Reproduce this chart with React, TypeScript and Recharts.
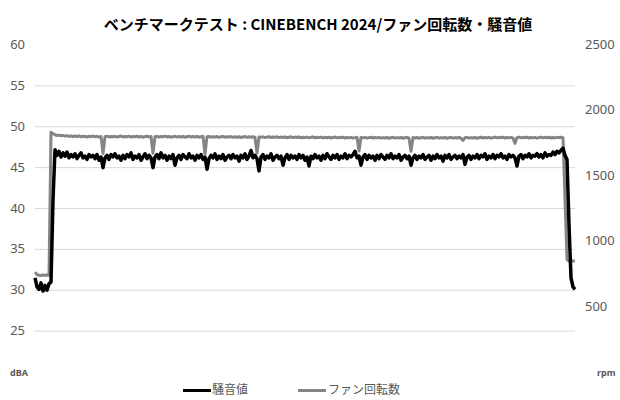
import { CartesianGrid, ComposedChart, Line, XAxis, YAxis } from "recharts";

// 騒音値 (dBA), one sample per step
const noise = [
  31.5, 30.4, 30.1, 30.9, 29.9, 30.6, 30.0, 30.8, 31.0, 41.0,
  47.2, 46.5, 47.0, 46.3, 46.8, 46.4, 46.9, 46.2, 46.6, 46.3,
  46.7, 46.1, 46.5, 46.8, 46.2, 46.4, 46.0, 46.6, 46.3, 46.5,
  46.1, 46.6, 45.9, 46.3, 45.0, 46.2, 46.5, 46.0, 46.6, 46.3,
  46.7, 46.2, 46.4, 45.9, 46.5, 46.1, 46.6, 46.3, 46.8, 46.0,
  46.4, 46.2, 46.6, 45.9, 46.3, 46.7, 46.1, 46.5, 46.2, 45.0,
  46.3, 46.6, 46.1, 46.8, 46.2, 46.5, 45.9, 46.4, 46.1, 46.6,
  45.3, 46.2, 46.5, 46.0, 46.6, 46.3, 46.1, 46.7, 46.2, 46.4,
  45.9, 46.5, 46.2, 46.6, 46.0, 46.3, 44.8, 46.1, 46.5, 46.2,
  46.7, 46.0, 46.4, 46.1, 46.6, 45.9, 46.3, 46.5, 46.1, 46.6,
  46.2, 46.4, 45.8, 46.5, 46.2, 46.7, 46.0, 46.4, 47.1, 46.2,
  46.5, 46.1, 44.6, 46.3, 46.6, 46.0, 46.4, 46.2, 46.7, 45.9,
  46.3, 46.5, 46.1, 46.4, 45.3, 46.2, 46.6, 46.0, 46.5, 46.2,
  46.4, 46.0, 46.6, 46.2, 46.5, 45.9, 46.3, 45.2, 46.4, 46.1,
  46.6, 46.2, 46.4, 45.9, 46.5, 46.1, 46.7, 46.3, 46.0, 46.5,
  46.2, 46.6, 46.0, 46.4, 46.2, 46.7, 46.1, 46.5, 46.3, 46.6,
  47.0, 46.2, 46.4, 45.3, 46.3, 46.6, 46.0, 46.5, 46.2, 46.4,
  45.9, 46.5, 46.1, 46.6, 46.3, 46.0, 46.5, 46.2, 46.7, 46.1,
  46.4, 46.2, 46.6, 45.9, 46.3, 46.5, 46.1, 46.4, 45.3, 46.2,
  46.5, 46.0, 46.4, 46.2, 46.6, 46.0, 46.3, 46.5, 45.9, 46.4,
  46.1, 46.6, 46.2, 46.4, 45.8, 46.5, 46.2, 46.6, 46.0, 46.3,
  46.5, 46.1, 46.4, 46.2, 46.6, 45.4, 46.3, 46.5, 46.0, 46.4,
  46.2, 46.6, 46.1, 46.5, 46.3, 46.7, 46.0, 46.4, 46.2, 46.6,
  46.1, 46.5, 46.3, 46.7, 46.2, 46.4, 46.0, 46.6, 46.3, 46.5,
  46.2, 45.2, 46.4, 46.6, 46.1, 46.5, 46.3, 46.7, 46.2, 46.5,
  46.4, 46.7, 46.3, 46.6, 46.2, 46.8, 46.4, 46.6, 46.5, 46.9,
  46.6, 47.0, 46.8, 47.1, 47.4, 46.5, 46.0, 38.0, 31.5, 30.4,
  30.1,
];

// ファン回転数 (rpm)
const fan = [
  762, 745, 740, 738, 741, 739, 742, 740, 1832, 1822,
  1814, 1808, 1811, 1806, 1809, 1803, 1807, 1801, 1805, 1799,
  1804, 1800, 1806, 1798, 1803, 1800, 1797, 1802, 1799, 1804,
  1798, 1802, 1796, 1801, 1670, 1799, 1803, 1797, 1801, 1798,
  1802, 1796, 1800, 1804, 1797, 1801, 1799, 1803, 1796, 1800,
  1798, 1802, 1797, 1801, 1795, 1800, 1803, 1797, 1801, 1672,
  1799, 1802, 1796, 1800, 1798, 1803, 1797, 1801, 1795, 1799,
  1802, 1796, 1800, 1797, 1801, 1795, 1799, 1803, 1796, 1800,
  1797, 1801, 1795, 1799, 1802, 1668, 1798, 1801, 1795, 1799,
  1796, 1800, 1794, 1798, 1801, 1795, 1799, 1796, 1800, 1794,
  1798, 1795, 1799, 1793, 1797, 1800, 1794, 1798, 1795, 1799,
  1793, 1674, 1797, 1794, 1798, 1792, 1796, 1799, 1793, 1797,
  1794, 1798, 1792, 1796, 1793, 1797, 1791, 1795, 1798, 1792,
  1796, 1793, 1797, 1791, 1795, 1792, 1796, 1790, 1794, 1797,
  1791, 1795, 1792, 1796, 1790, 1794, 1791, 1795, 1789, 1793,
  1796, 1790, 1794, 1791, 1795, 1789, 1793, 1790, 1794, 1788,
  1792, 1795, 1690, 1793, 1790, 1794, 1788, 1792, 1795, 1789,
  1793, 1790, 1794, 1788, 1792, 1789, 1793, 1787, 1791, 1794,
  1788, 1792, 1789, 1793, 1787, 1791, 1794, 1788, 1688, 1792,
  1789, 1793, 1787, 1791, 1794, 1788, 1792, 1789, 1793, 1787,
  1791, 1794, 1788, 1792, 1789, 1793, 1787, 1791, 1794, 1788,
  1792, 1789, 1793, 1787, 1770, 1791, 1794, 1788, 1792, 1789,
  1793, 1787, 1791, 1795, 1789, 1793, 1790, 1794, 1788, 1792,
  1796, 1790, 1794, 1791, 1795, 1789, 1793, 1790, 1794, 1788,
  1748, 1792, 1796, 1790, 1794, 1791, 1795, 1789, 1793, 1790,
  1794, 1788, 1792, 1796, 1790, 1794, 1791, 1795, 1789, 1793,
  1790, 1794, 1792, 1795, 1792, 1320, 860, 848, 846, 848,
  850,
];

const steps = noise.map((_, i) => i);
const dbaTicks = [20, 25, 30, 35, 40, 45, 50, 55, 60];
const rpmTicks = [0, 500, 1000, 1500, 2000, 2500];
const gridValues = [25, 30, 35, 40, 45, 50, 55];

const data = steps.map((t, i) => ({ t, noise: noise[i], fan: fan[i] }));

const tickFont = "'Noto Sans', 'Open Sans', sans-serif";
const jpFont = "'Noto Sans CJK JP', sans-serif";
const labelColor = "#595959";

function LeftTick({ x, y, payload }: any) {
  if (payload.value === 20) {
    return (
      <text x={10} y={y} dy={4} fontSize={9} fontWeight="bold" fill={labelColor} fontFamily={tickFont}>
        dBA
      </text>
    );
  }
  return (
    <text x={x} y={y} dy={4} textAnchor="end" fontSize={13} fill={labelColor} fontFamily={tickFont}>
      {payload.value}
    </text>
  );
}

function RightTick({ x, y, payload }: any) {
  if (payload.value === 0) {
    return (
      <text x={597} y={y} dy={4} fontSize={9} fontWeight="bold" fill={labelColor} fontFamily={tickFont}>
        rpm
      </text>
    );
  }
  return (
    <text x={x} y={y} dy={4} textAnchor="start" fontSize={13} fill={labelColor} fontFamily={tickFont}>
      {payload.value}
    </text>
  );
}

export default function App() {
  return (
    <div style={{ position: "absolute", left: 0, top: 0, width: 620, height: 400, background: "#fff" }}>
      <div
        style={{
          position: "absolute",
          top: 13,
          left: 8,
          width: 620,
          textAlign: "center",
          fontFamily: jpFont,
          fontWeight: "bold",
          fontSize: 15,
          color: "#000",
        }}
      >
        ベンチマークテスト : CINEBENCH 2024/ファン回転数・騒音値
      </div>
      <ComposedChart width={620} height={400} data={data} margin={{ top: 45, right: 0, bottom: 28, left: 0 }}>
        <CartesianGrid horizontal vertical={false} stroke="#d9d9d9" horizontalValues={gridValues} yAxisId="dba" />
        <XAxis dataKey="t" type="number" domain={[0, steps.length - 1]} hide />
        <YAxis
          yAxisId="dba"
          domain={[20, 60]}
          ticks={dbaTicks}
          width={35}
          axisLine={false}
          tickLine={false}
          tickSize={0}
          tickMargin={10}
          tick={<LeftTick />}
          interval={0}
        />
        <YAxis
          yAxisId="rpm"
          orientation="right"
          domain={[0, 2500]}
          ticks={rpmTicks}
          width={45}
          axisLine={false}
          tickLine={false}
          tickSize={0}
          tickMargin={10}
          tick={<RightTick />}
          interval={0}
        />
        <Line yAxisId="rpm" dataKey="fan" stroke="#858585" strokeWidth={3} dot={false} isAnimationActive={false} strokeLinejoin="round" />
        <Line yAxisId="dba" dataKey="noise" stroke="#000" strokeWidth={3.5} dot={false} isAnimationActive={false} strokeLinejoin="round" />
      </ComposedChart>
      <div
        style={{
          position: "absolute",
          top: 381,
          left: 0,
          width: 620,
          height: 16,
          fontFamily: jpFont,
          fontSize: 12,
          color: labelColor,
        }}
      >
        <span style={{ position: "absolute", left: 183, top: 8, width: 28, height: 3, background: "#000" }} />
        <span style={{ position: "absolute", left: 212, top: 0, lineHeight: "16px" }}>騒音値</span>
        <span style={{ position: "absolute", left: 298, top: 8, width: 28, height: 3, background: "#858585" }} />
        <span style={{ position: "absolute", left: 328, top: 0, lineHeight: "16px" }}>ファン回転数</span>
      </div>
    </div>
  );
}
